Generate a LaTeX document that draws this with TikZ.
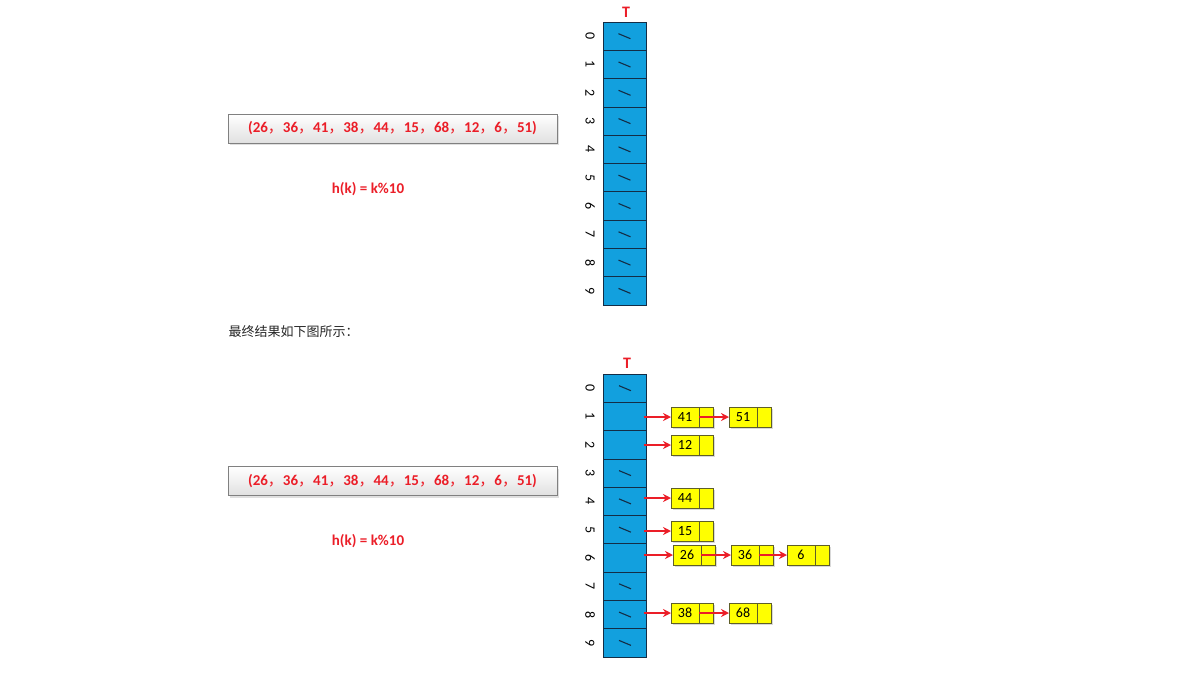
\documentclass[tikz,border=0pt]{standalone}
\usepackage{fontspec}
\setmainfont{Carlito}
\newfontfamily\cjk{Noto Sans CJK SC}
\usetikzlibrary{positioning,arrows.meta,shadows}
\definecolor{cellblue}{RGB}{18,160,222}
\definecolor{celledge}{RGB}{20,45,70}
\definecolor{nodeyellow}{RGB}{255,255,0}
\definecolor{nodeedge}{RGB}{95,95,40}
\definecolor{keyred}{RGB}{235,30,40}
\newcommand{\cm}{{\cjk\mdseries ，}}
\tikzset{
    cell/.style = {
        draw=celledge, fill=cellblue, line width=0.9pt,
        minimum width=43pt, minimum height=28.3pt,
        inner sep=0pt, outer sep=0pt
    },
    nilmark/.style = {
        celledge, line width=1.1pt
    },
    index/.style = {
        rotate=-90, font=\fontsize{14}{14}\selectfont
    },
    val/.style = {
        draw=nodeedge, fill=nodeyellow, line width=0.8pt,
        minimum width=28pt, minimum height=20pt,
        inner sep=0pt, outer sep=0pt,
        font=\fontsize{14}{14}\selectfont,
        drop shadow={shadow xshift=1.5pt, shadow yshift=-1.5pt, opacity=0.3}
    },
    ptr/.style = {
        val, minimum width=14pt
    },
    link/.style = {
        keyred, line width=1.4pt, -{Stealth[length=8pt,width=8pt]}
    },
    title/.style = {
        keyred, font=\bfseries\fontsize{16}{16}\selectfont
    },
    keybox/.style = {
        draw=black!50, line width=0.8pt, top color=white, bottom color=black!12,
        minimum width=329pt, minimum height=29pt,
        text=keyred, font=\bfseries\fontsize{15}{15}\selectfont,
        drop shadow={shadow xshift=2pt, shadow yshift=-2pt, opacity=0.25}
    },
    hash/.style = {
        text=keyred, font=\bfseries\fontsize{15}{15}\selectfont
    }
}

\begin{document}
\begin{tikzpicture}[x=1pt,y=-1pt]
    \useasboundingbox (0,0) rectangle (1200,673);

    % Draw the empty table
    \node[title] (T1) at (626,12) {T};
    \foreach \i in {0,...,9} {
        \node[cell] (t\i) at (624.5,36.2+28.3*\i) {};
        \node[index] (ti\i) at (590,36.2+28.3*\i) {\i};
        \draw[nilmark] (t\i.center) +(-6,-2.5) -- +(6,2.5);
    }
    \node[keybox] (keys1) at (392.5,128.5) {(26\cm 36\cm 41\cm 38\cm 44\cm 15\cm 68\cm 12\cm 6\cm 51)};
    \node[hash] (h1) at (368,189) {h(k) = k\%10};

    % Caption
    \node[anchor=west, font=\fontsize{13}{13}\selectfont, text=black!85] (cap) at (225,332) {\cjk 最终结果如下图所示：};

    % Draw the filled table
    \node[title] (T2) at (627,363) {T};
    \foreach \i in {0,...,9} {
        \node[cell] (b\i) at (625,388.2+28.3*\i) {};
        \node[index] (bi\i) at (590,388.2+28.3*\i) {\i};
    }
    \foreach \i in {0,3,4,5,7,8,9}
        \draw[nilmark] (b\i.center) +(-6,-2.5) -- +(6,2.5);
    \node[keybox] (keys2) at (392.5,481) {(26\cm 36\cm 41\cm 38\cm 44\cm 15\cm 68\cm 12\cm 6\cm 51)};
    \node[hash] (h2) at (368,541) {h(k) = k\%10};

    % Draw the chains
    \node[val] (v41) at (685,417) {41};
    \node[ptr, right=0pt of v41] (p41) {};
    \node[val, right=16pt of p41] (v51) {51};
    \node[ptr, right=0pt of v51] (p51) {};

    \node[val] (v12) at (685,445) {12};
    \node[ptr, right=0pt of v12] (p12) {};

    \node[val] (v44) at (685,498) {44};
    \node[ptr, right=0pt of v44] (p44) {};

    \node[val] (v15) at (685,531) {15};
    \node[ptr, right=0pt of v15] (p15) {};

    \node[val] (v26) at (687,555) {26};
    \node[ptr, right=0pt of v26] (p26) {};
    \node[val, right=16pt of p26] (v36) {36};
    \node[ptr, right=0pt of v36] (p36) {};
    \node[val, right=14pt of p36] (v6) {6};
    \node[ptr, right=0pt of v6] (p6) {};

    \node[val] (v38) at (685,613) {38};
    \node[ptr, right=0pt of v38] (p38) {};
    \node[val, right=16pt of p38] (v68) {68};
    \node[ptr, right=0pt of v68] (p68) {};

    % Draw arrows
    \draw[link] (b1.east |- v41.west) ++(-3,0) -- (v41.west);
    \draw[link] (b2.east |- v12.west) ++(-3,0) -- (v12.west);
    \draw[link] (b4.east |- v44.west) ++(-3,0) -- (v44.west);
    \draw[link] (b5.east |- v15.west) ++(-3,0) -- (v15.west);
    \draw[link] (b6.east |- v26.west) ++(-3,0) -- (v26.west);
    \draw[link] (b8.east |- v38.west) ++(-3,0) -- (v38.west);
    %
    \draw[link] (p41.west) -- (v51.west);
    \draw[link] (p26.west) -- (v36.west);
    \draw[link] (p36.west) -- (v6.west);
    \draw[link] (p38.west) -- (v68.west);
\end{tikzpicture}
\end{document}
